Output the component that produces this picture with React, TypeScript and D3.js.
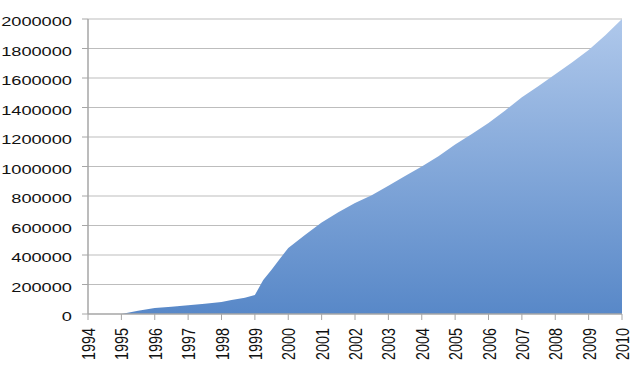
import React from "react";
import * as d3 from "d3";

const years = [1995.0, 1995.5, 1996.0, 1996.5, 1997.0, 1997.5, 1998.0, 1998.3, 1998.7, 1999.0, 1999.25, 1999.5, 1999.75, 2000.0, 2000.5, 2001.0, 2001.5, 2002.0, 2002.5, 2003.0, 2003.5, 2004.0, 2004.5, 2005.0, 2005.5, 2006.0, 2006.5, 2007.0, 2007.5, 2008.0, 2008.5, 2009.0, 2009.5, 2010.0];
const values = [0, 22000, 40000, 50000, 60000, 70000, 82000, 95000, 110000, 128000, 230000, 300000, 375000, 447000, 535000, 620000, 690000, 752000, 805000, 870000, 935000, 1000000, 1070000, 1150000, 1220000, 1295000, 1380000, 1470000, 1545000, 1625000, 1705000, 1790000, 1890000, 2000000];
const xTicks = d3.range(1994, 2011);
const yTicks = d3.range(0, 2000001, 200000);

const W = 640, H = 369;
const left = 88, right = 622, top = 19, bottom = 314;

export default function App() {
  const x = d3.scaleLinear().domain([1994, 2010]).range([left, right]);
  const y = d3.scaleLinear().domain([0, 2000000]).range([bottom, top]);
  const data = years.map((yr, i) => [yr, values[i]] as [number, number]);
  const area = d3.area<[number, number]>().x(d => x(d[0])).y0(y(0)).y1(d => y(d[1]));
  const font = "'Liberation Sans', Arial, sans-serif";
  return (
    <svg width={W} height={H} style={{ position: "absolute", left: 0, top: 0 }}>
      <defs>
        <linearGradient id="g" gradientUnits="userSpaceOnUse" x1="0" y1={top} x2="0" y2={bottom}>
          <stop offset="0" stopColor="#afc8eb" />
          <stop offset="1" stopColor="#5888c8" />
        </linearGradient>
      </defs>
      <rect width={W} height={H} fill="#fff" />
      {yTicks.map(t => (
        <g key={t}>
          {t > 0 && <line x1={left} x2={right} y1={y(t)} y2={y(t)} stroke="#bdbdbd" strokeWidth={1} />}
          <line x1={left - 6} x2={left} y1={y(t)} y2={y(t)} stroke="#a6a6a6" strokeWidth={1} />
          <text transform={`translate(72,${y(t) + 7}) scale(1.35,1)`} textAnchor="end" fontFamily={font} fontSize={13.5} fill="#111">{t}</text>
        </g>
      ))}
      <path d={area(data) || ""} fill="url(#g)" />
      <line x1={left} x2={left} y1={top} y2={bottom} stroke="#a6a6a6" strokeWidth={1.5} />
      <line x1={left} x2={right} y1={bottom} y2={bottom} stroke="#a6a6a6" strokeWidth={1.5} />
      {xTicks.map(t => (
        <g key={t}>
          <line x1={x(t)} x2={x(t)} y1={bottom} y2={bottom + 6} stroke="#a6a6a6" strokeWidth={1} />
          <text transform={`translate(${x(t) + 7},328) scale(1.26,1) rotate(-90)`} textAnchor="end" fontFamily={font} fontSize={14.4} fill="#111">{t}</text>
        </g>
      ))}
    </svg>
  );
}
